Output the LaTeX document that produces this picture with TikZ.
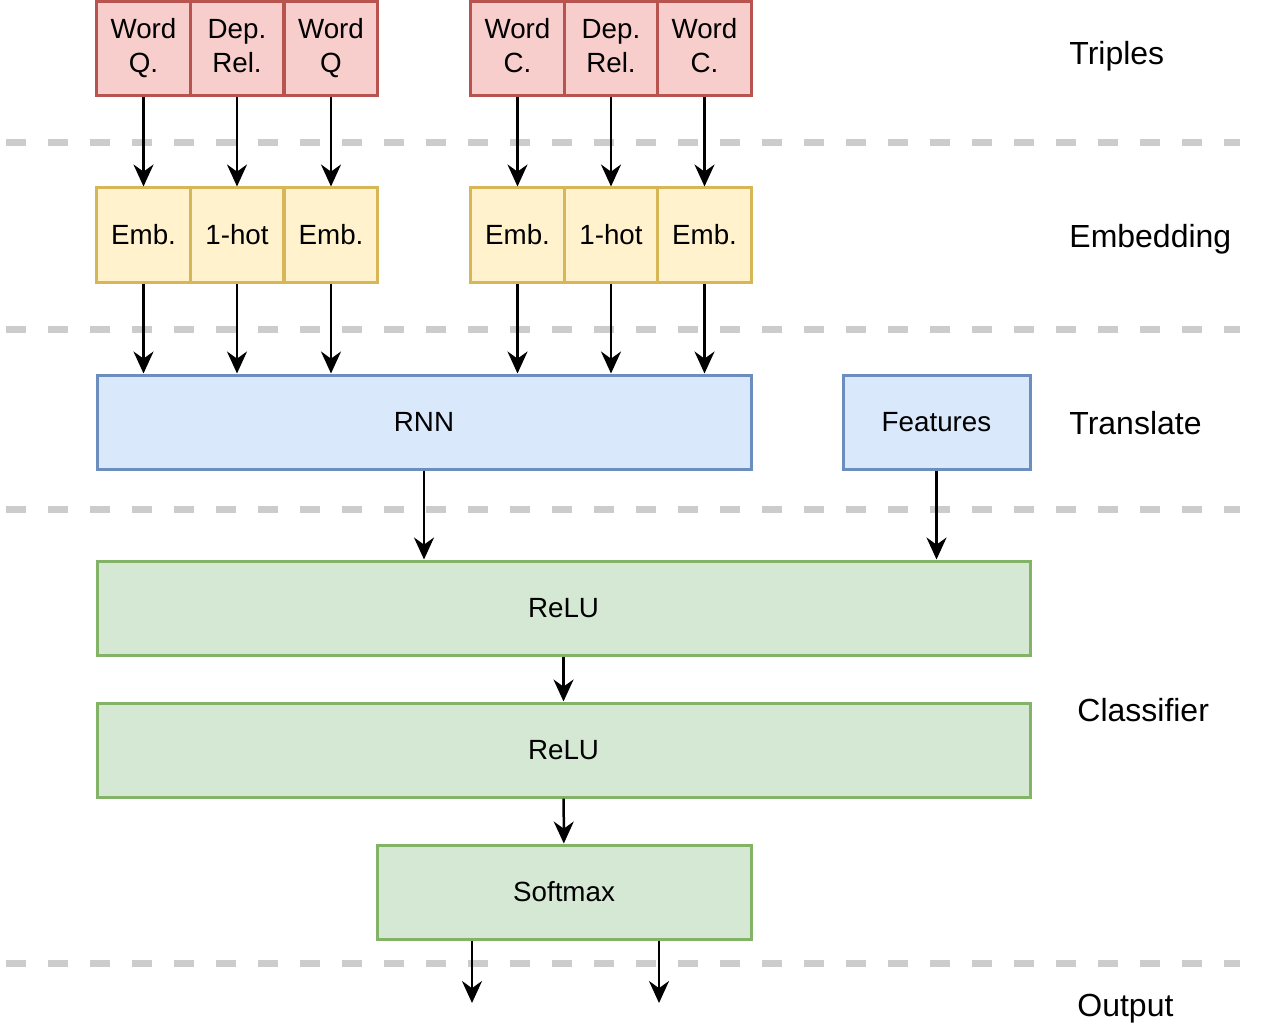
\documentclass[tikz,border=0pt]{standalone}
\usepackage{fontspec}
\setmainfont{Liberation Sans}
\usepackage{tikz}
\usetikzlibrary{arrows.meta,positioning}
\definecolor{trRed}{HTML}{B85450}
\definecolor{trRedFill}{HTML}{F8CECC}
\definecolor{embYellow}{HTML}{D6B656}
\definecolor{embYellowFill}{HTML}{FFF2CC}
\definecolor{nnBlue}{HTML}{6C8EBF}
\definecolor{nnBlueFill}{HTML}{DAE8FC}
\definecolor{clsGreen}{HTML}{82B366}
\definecolor{clsGreenFill}{HTML}{D5E8D4}
\tikzset{
    >={Stealth[length=0.22cm,width=0.2cm]},
    box/.style={rectangle,line width=0.03cm,minimum height=0.94cm,inner sep=0pt,align=center,font=\fontsize{7.9}{9.5}\selectfont},
    triple/.style={box,draw=trRed,fill=trRedFill,minimum width=0.935cm},
    emb/.style={box,draw=embYellow,fill=embYellowFill,minimum width=0.935cm},
    translate/.style={box,draw=nnBlue,fill=nnBlueFill},
    classify/.style={box,draw=clsGreen,fill=clsGreenFill},
    sep/.style={line width=0.07cm,color=black!20,dash pattern=on 0.2cm off 0.22cm},
    stage/.style={right,font=\fontsize{9.1}{11}\selectfont},
    flow/.style={line width=0.025cm,->}
}
\newcommand{\TwoLine}[2]{\strut #1\\\strut #2}

\begin{document}
\begin{tikzpicture}
    \useasboundingbox (0,0) rectangle (12.8,-10.34);

    % layer separators
    \draw[sep] (0.06,-1.43) -- (12.4,-1.43);
    \draw[sep] (0.06,-3.29) -- (12.4,-3.29);
    \draw[sep] (0.06,-5.09) -- (12.4,-5.09);
    \draw[sep] (0.06,-9.63) -- (12.4,-9.63);

    % triples
    \node[triple] (wq1) at (1.435,-0.49) {\TwoLine{Word}{Q.}};
    \node[triple] (dr1) at (2.37,-0.49) {\TwoLine{Dep.}{Rel.}};
    \node[triple] (wq2) at (3.31,-0.49) {\TwoLine{Word}{Q}};
    \node[triple] (wc1) at (5.175,-0.49) {\TwoLine{Word}{C.}};
    \node[triple] (dr2) at (6.11,-0.49) {\TwoLine{Dep.}{Rel.}};
    \node[triple] (wc2) at (7.045,-0.49) {\TwoLine{Word}{C.}};

    % embeddings
    \node[emb] (e1) at (1.435,-2.35) {Emb.};
    \node[emb] (e2) at (2.37,-2.35) {1-hot};
    \node[emb] (e3) at (3.31,-2.35) {Emb.};
    \node[emb] (e4) at (5.175,-2.35) {Emb.};
    \node[emb] (e5) at (6.11,-2.35) {1-hot};
    \node[emb] (e6) at (7.045,-2.35) {Emb.};

    % translate
    \node[translate,minimum width=6.54cm] (rnn) at (4.24,-4.22) {RNN};
    \node[translate,minimum width=1.87cm] (feat) at (9.365,-4.22) {Features};

    % classifier
    \node[classify,minimum width=9.33cm] (relu1) at (5.635,-6.08) {ReLU};
    \node[classify,minimum width=9.33cm] (relu2) at (5.635,-7.50) {ReLU};
    \node[classify,minimum width=3.74cm] (soft) at (5.64,-8.92) {Softmax};

    \coordinate (outA) at (4.72,-10.03);
    \coordinate (outB) at (6.59,-10.03);

    % stage labels
    \node[stage] (lblTriples) at (10.57,-0.56) {Triples};
    \node[stage] (lblEmb) at (10.57,-2.39) {Embedding};
    \node[stage] (lblTrans) at (10.57,-4.23) {Translate};
    \node[stage] (lblCls) at (10.65,-7.10) {Classifier};
    \node[stage] (lblOut) at (10.65,-10.09) {Output};

    % arrows
    \draw[flow] (wq1) -- (e1);
    \draw[flow] (dr1) -- (e2);
    \draw[flow] (wq2) -- (e3);
    \draw[flow] (wc1) -- (e4);
    \draw[flow] (dr2) -- (e5);
    \draw[flow] (wc2) -- (e6);

    \draw[flow] (e1) -- (e1 |- rnn.north);
    \draw[flow] (e2) -- (e2 |- rnn.north);
    \draw[flow] (e3) -- (e3 |- rnn.north);
    \draw[flow] (e4) -- (e4 |- rnn.north);
    \draw[flow] (e5) -- (e5 |- rnn.north);
    \draw[flow] (e6) -- (e6 |- rnn.north);

    \draw[flow] (rnn) -- (rnn |- relu1.north);
    \draw[flow] (feat) -- (feat |- relu1.north);
    \draw[flow] (relu1) -- (relu2);
    \draw[flow] (relu2) -- (soft);
    \draw[flow] (outA |- soft.south) -- (outA);
    \draw[flow] (outB |- soft.south) -- (outB);
\end{tikzpicture}
\end{document}
